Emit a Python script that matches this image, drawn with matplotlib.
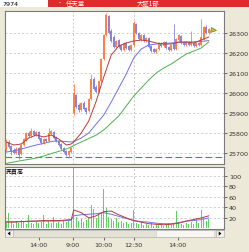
import matplotlib
matplotlib.use("Agg")
import matplotlib.pyplot as plt
from matplotlib.patches import Rectangle, Polygon

# ---------------- data ----------------
OPEN = [25720, 25755, 25735, 25715, 25700, 25725, 25695, 25740, 25765, 25800,
        25785, 25810, 25790, 25805, 25775, 25750, 25770, 25760, 25795, 25805,
        25780, 25760, 25745, 25725, 25710, 25690, 25705,
        25900, 25990, 25940, 25915, 25950, 25925, 25910, 25970, 26070, 26030,
        26005, 26060, 26170, 26290, 26385, 26310, 26280, 26230, 26265, 26240,
        26215, 26250, 26235, 26215,
        26240, 26345, 26300, 26265, 26290, 26260, 26275, 26235, 26220, 26205,
        26220, 26250, 26235, 26255, 26230, 26215, 26245, 26220, 26265, 26285,
        26255, 26240, 26255, 26240, 26250, 26235, 26250, 26240, 26270, 26330, 26300]
HIGH = [25770, 25765, 25740, 25725, 25730, 25730, 25745, 25775, 25805, 25810,
        25825, 25815, 25810, 25810, 25780, 25775, 25775, 25825, 25815, 25810,
        25785, 25765, 25750, 25730, 25715, 25715, 25730,
        26045, 25995, 25950, 25955, 25960, 25930, 25975, 26095, 26080, 26040,
        26065, 26175, 26295, 26400, 26390, 26320, 26290, 26265, 26270, 26245,
        26255, 26255, 26240, 26245,
        26360, 26350, 26305, 26295, 26295, 26280, 26280, 26240, 26225, 26225,
        26255, 26255, 26260, 26260, 26235, 26245, 26345, 26275, 26295, 26290,
        26260, 26260, 26260, 26310, 26255, 26255, 26255, 26370, 26335, 26340, 26325]
LOW = [25710, 25725, 25690, 25695, 25695, 25670, 25690, 25735, 25760, 25780,
       25780, 25785, 25785, 25765, 25745, 25745, 25755, 25755, 25790, 25770,
       25755, 25735, 25715, 25700, 25685, 25680, 25700,
       25890, 25925, 25905, 25910, 25915, 25895, 25905, 25965, 26015, 26000,
       26000, 26055, 26165, 26285, 26295, 26255, 26225, 26225, 26225, 26210,
       26210, 26220, 26210, 26210,
       26235, 26295, 26265, 26260, 26255, 26255, 26225, 26205, 26200, 26200,
       26215, 26230, 26230, 26220, 26210, 26210, 26215, 26215, 26260, 26245,
       26235, 26235, 26235, 26235, 26230, 26230, 26235, 26235, 26265, 26295, 26295]
CLOSE = [25760, 25730, 25710, 25700, 25720, 25690, 25740, 25770, 25800, 25785,
         25810, 25790, 25805, 25770, 25750, 25770, 25760, 25800, 25810, 25775,
         25760, 25740, 25720, 25705, 25690, 25710, 25725,
         26000, 25930, 25915, 25950, 25920, 25905, 25970, 26070, 26020, 26005,
         26060, 26170, 26290, 26390, 26300, 26260, 26230, 26260, 26230, 26215,
         26250, 26225, 26215, 26240,
         26350, 26300, 26270, 26290, 26260, 26275, 26230, 26210, 26205, 26220,
         26250, 26235, 26255, 26225, 26215, 26240, 26220, 26270, 26290, 26250,
         26240, 26255, 26240, 26250, 26235, 26250, 26240, 26280, 26330, 26300, 26320]
VOLUME = [10, 30, 12, 8, 14, 10, 16, 12, 9, 25,
          11, 8, 13, 10, 12, 25, 9, 14, 11, 22,
          10, 13, 9, 15, 12, 16, 18,
          118, 22, 15, 18, 12, 16, 20, 45, 37, 20,
          28, 30, 75, 38, 22, 18, 15, 20, 12, 14,
          10, 12, 8, 10,
          35, 10, 8, 12, 6, 9, 7, 10, 5, 8,
          6, 9, 5, 7, 10, 6, 8, 33, 12, 9,
          7, 10, 8, 12, 9, 20, 11, 35, 22, 15, 18]

MA_IDX = [0, 3, 6, 9, 12, 15, 18, 21, 24, 26, 27, 30, 33, 36, 39, 42, 45, 48,
          51, 54, 57, 60, 63, 66, 69, 72, 75, 78, 81]
MA_SHORT = [25755, 25740, 25745, 25775, 25790, 25780, 25790, 25770, 25740, 25745,
            25755, 25800, 25860, 25960, 26080, 26190, 26235, 26250,
            26260, 26265, 26260, 26250, 26245, 26245, 26255, 26255, 26250, 26265, 26280]
MA_MID = [25705, 25710, 25720, 25730, 25740, 25748, 25758, 25760, 25757, 25755,
          25757, 25775, 25800, 25845, 25890, 25955, 26025, 26095,
          26175, 26220, 26240, 26245, 26248, 26250, 26252, 26254, 26256, 26258, 26262]
MA_LONG = [25648, 25655, 25662, 25668, 25675, 25685, 25697, 25708, 25720, 25730,
           25738, 25755, 25772, 25790, 25815, 25850, 25885, 25935,
           25985, 26025, 26065, 26100, 26125, 26145, 26170, 26195, 26210, 26225, 26255]
VMA_SHORT = [12, 12, 13, 14, 14, 15, 15, 15, 16, 17,
             35, 30, 20, 24, 32, 33, 26, 20,
             15, 12, 9, 8, 7, 8, 10, 14, 17, 20, 24]
VMA_LONG = [13, 13, 13, 13, 14, 14, 14, 14, 15, 16,
            24, 26, 27, 28, 30, 27, 23, 19,
            15, 13, 12, 10, 9, 9, 11, 14, 15, 17, 20]

REF_PRICE = 25680
LAST_PRICE = 26315
PRICE_TICKS = [25700, 25800, 25900, 26000, 26100, 26200, 26300]
VOL_TICKS = [20, 40, 60, 80, 100]
TIME_TICKS = [13, 26.7, 39, 51, 68.6]
TIME_LABELS = ["14:00", "9:00", "10:00", "12:30", "14:00"]
SESSION_LINES = [26.7, 51]

CODE = "7974"
NAME = "任天堂"
MARKET = "大証1部"
VOL_TITLE = "売買高"

# ---------------- style ----------------
W, H = 249, 253
BEIGE = "#ECE9D8"
UP = "#FF7F45"
DOWN = "#8585E0"
GRID = "#C8C8C8"
FONT = 4.6
CJK = ["Noto Sans CJK JP", "DejaVu Sans"]

fig = plt.figure(figsize=(W / 100, H / 100), dpi=100)
fig.patch.set_facecolor(BEIGE)

def fx(px):
    return px / W

def fy(py):
    return 1 - py / H

# header
fig.patches.append(Rectangle((0, fy(8)), fx(48), 8 / H, transform=fig.transFigure,
                             facecolor="white", edgecolor="none"))
fig.patches.append(Rectangle((fx(48), fy(8)), 1 - fx(48), 8 / H, transform=fig.transFigure,
                             facecolor="#DF2B2B", edgecolor="none"))
fig.text(fx(2), fy(4), CODE, fontsize=4.6, color="black", va="center", ha="left")
fig.text(fx(57), fy(4), "・", fontsize=4.2, color="white", va="center", ha="left", family=CJK)
fig.text(fx(66), fy(4), NAME, fontsize=4.6, color="white", va="center", ha="left", family=CJK)
fig.text(fx(137), fy(4), MARKET, fontsize=4.6, color="white", va="center", ha="left", family=CJK)

XMIN, XMAX = -0.5, 87.1

# ---------------- price panel ----------------
ax = fig.add_axes([fx(5), fy(165), fx(219), 153 / H])
ax.set_facecolor("white")
ax.set_xlim(XMIN, XMAX)
ax.set_ylim(25645, 26410)
for p in PRICE_TICKS:
    ax.axhline(p, color=GRID, lw=0.6, ls=(0, (2.5, 2.5)), zorder=0)
for s in SESSION_LINES:
    ax.axvline(s, color=GRID, lw=0.7, ls=(0, (2, 2)), zorder=0)
ax.axhline(REF_PRICE, color="#33A033", lw=0.8, ls=(0, (6, 3)), zorder=1)

idx = list(range(len(CLOSE)))
for i in idx:
    o, h, l, c = OPEN[i], HIGH[i], LOW[i], CLOSE[i]
    col = UP if c >= o else DOWN
    ax.vlines(i, l, h, color=col, lw=0.6, zorder=2)
    ax.bar(i, abs(c - o) if c != o else 2, bottom=min(o, c), width=0.75,
           color=col, edgecolor="none", zorder=3)

ax.plot(MA_IDX, MA_LONG, color="#4CB04C", lw=0.7, zorder=4)
ax.plot(MA_IDX, MA_MID, color="#7070E8", lw=0.7, zorder=4)
ax.plot(MA_IDX, MA_SHORT, color="#B83A3A", lw=0.7, zorder=4)
ax.plot([len(CLOSE) + 0.8], [LAST_PRICE], marker=">", markersize=3.6,
        color="#C8C020", markeredgecolor="#708020", markeredgewidth=0.5,
        zorder=5, clip_on=False)

ax.yaxis.tick_right()
ax.set_yticks(PRICE_TICKS)
ax.set_yticklabels([str(p) for p in PRICE_TICKS])
ax.tick_params(axis="y", length=2, width=0.5, pad=1.5, labelsize=FONT, colors="#333333")
ax.set_xticks([])
for side, sp in ax.spines.items():
    sp.set_linewidth(0.8)
    sp.set_color("#7A7A7A")

# ---------------- volume panel ----------------
av = fig.add_axes([fx(5), fy(230), fx(219), 62 / H])
av.set_facecolor("white")
av.set_xlim(XMIN, XMAX)
av.set_ylim(-1, 116.5)
for v in VOL_TICKS:
    av.axhline(v, color=GRID, lw=0.6, ls=(0, (2.5, 2.5)), zorder=0)
for s in SESSION_LINES:
    av.axvline(s, color=GRID, lw=0.7, ls=(0, (2, 2)), zorder=0)
av.bar(idx, VOLUME, width=0.45, color="#66CC66", edgecolor="none", zorder=2)
av.plot(MA_IDX, VMA_LONG, color="#7070E8", lw=0.7, zorder=3)
av.plot(MA_IDX, VMA_SHORT, color="#B83A3A", lw=0.7, zorder=3)
av.text(0.005, 0.985, VOL_TITLE, transform=av.transAxes, fontsize=4.3,
        va="top", ha="left", family=CJK, color="black")
av.yaxis.tick_right()
av.set_yticks(VOL_TICKS)
av.set_yticklabels([str(v) for v in VOL_TICKS])
av.tick_params(axis="y", length=2, width=0.5, pad=1.5, labelsize=FONT, colors="#333333")
av.set_xticks([])
for side, sp in av.spines.items():
    sp.set_linewidth(0.8)
    sp.set_color("#7A7A7A")

# ---------------- scrollbar + time axis ----------------
asb = fig.add_axes([fx(5), fy(238), fx(219), 7 / H])
asb.set_xlim(XMIN, XMAX)
asb.set_ylim(0, 1)
asb.set_facecolor("#E4E2D6")
asb.add_patch(Rectangle((0.69, 0.05), 0.265, 0.9, transform=asb.transAxes,
                        facecolor="#F7F6F1", edgecolor="#D0CEC4", lw=0.4))
asb.add_patch(Rectangle((0, 0), 0.037, 1, transform=asb.transAxes,
                        facecolor="#F2F1EC", edgecolor="#A0A0A0", lw=0.4))
asb.add_patch(Rectangle((0.963, 0), 0.037, 1, transform=asb.transAxes,
                        facecolor="#F2F1EC", edgecolor="#A0A0A0", lw=0.4))
asb.add_patch(Polygon([(0.012, 0.5), (0.024, 0.2), (0.024, 0.8)], closed=True,
                      transform=asb.transAxes, facecolor="black", edgecolor="none"))
asb.add_patch(Polygon([(0.988, 0.5), (0.976, 0.2), (0.976, 0.8)], closed=True,
                      transform=asb.transAxes, facecolor="black", edgecolor="none"))
asb.set_yticks([])
asb.set_xticks(TIME_TICKS)
asb.set_xticklabels(TIME_LABELS)
asb.tick_params(axis="x", length=2.5, width=0.5, pad=1.2, labelsize=FONT, colors="#333333")
for sp in asb.spines.values():
    sp.set_linewidth(0.5)
    sp.set_color("#B0B0B0")

fig.savefig("out.png", dpi=100, facecolor=fig.get_facecolor())
